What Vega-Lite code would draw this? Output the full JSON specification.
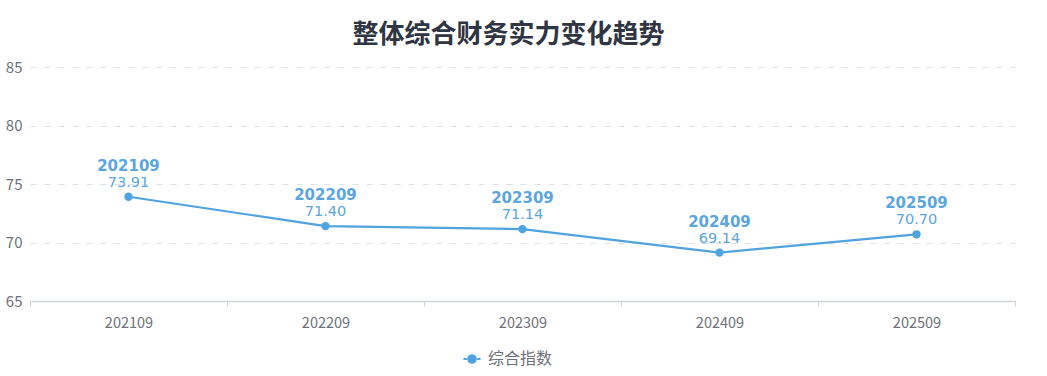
{
  "$schema": "https://vega.github.io/schema/vega-lite/v6.json",
  "autosize": {"type": "none"},
  "width": 985,
  "height": 234,
  "padding": {"left": 30, "top": 67, "right": 32, "bottom": 75},
  "background": "#ffffff",
  "config": {"view": {"stroke": null}},
  "title": {
    "text": "整体综合财务实力变化趋势",
    "font": "Noto Sans CJK SC",
    "fontSize": 26,
    "fontWeight": "bold",
    "color": "#2f3542",
    "anchor": "middle",
    "dx": -14,
    "offset": 12
  },
  "data": {
    "values": [
      {"period": "202109", "value": 73.91, "series": "综合指数"},
      {"period": "202209", "value": 71.40, "series": "综合指数"},
      {"period": "202309", "value": 71.14, "series": "综合指数"},
      {"period": "202409", "value": 69.14, "series": "综合指数"},
      {"period": "202509", "value": 70.70, "series": "综合指数"}
    ]
  },
  "encoding": {
    "x": {
      "field": "period",
      "type": "nominal",
      "scale": {"type": "band", "paddingInner": 0, "paddingOuter": 0},
      "axis": {
        "title": null,
        "labelAngle": 0,
        "labelFont": "Noto Sans CJK SC",
        "labelFontSize": 14.5,
        "labelColor": "#6e7079",
        "labelPadding": 10,
        "tickBand": "extent",
        "tickSize": 5,
        "tickColor": "#d0d3da",
        "domainColor": "#d0d3da",
        "domainWidth": 1.5,
        "grid": false
      }
    },
    "y": {
      "field": "value",
      "type": "quantitative",
      "scale": {"domain": [65, 85], "nice": false, "zero": false},
      "axis": {
        "title": null,
        "values": [65, 70, 75, 80, 85],
        "labelFont": "Noto Sans CJK SC",
        "labelFontSize": 15,
        "labelColor": "#6e7079",
        "labelPadding": 8,
        "ticks": false,
        "domain": false,
        "grid": true,
        "gridColor": "#dde1e8",
        "gridDash": [6, 8],
        "gridWidth": 1.2
      }
    }
  },
  "layer": [
    {
      "mark": {"type": "line", "strokeWidth": 2.2, "color": "#4fa3df"},
      "encoding": {
        "color": {
          "field": "series",
          "type": "nominal",
          "scale": {"range": ["#4fa3df"]},
          "legend": {
            "title": null,
            "orient": "none",
            "legendX": 432,
            "legendY": 282,
            "direction": "horizontal",
            "labelFont": "Noto Sans CJK SC",
            "labelFontSize": 16,
            "labelColor": "#6e7079",
            "symbolType": "M-1,0L-0.6,0M0.6,0L1,0M-0.45,0A0.45,0.45 0 1,1 0.45,0A0.45,0.45 0 1,1 -0.45,0Z",
            "symbolSize": 290,
            "symbolFillColor": "#4fa3df",
            "symbolStrokeColor": "#4fa3df",
            "symbolStrokeWidth": 2,
            "labelOffset": 6
          }
        }
      }
    },
    {
      "mark": {"type": "point", "filled": true, "size": 70, "opacity": 1, "color": "#4fa3df"}
    },
    {
      "mark": {"type": "text", "font": "DejaVu Sans", "fontSize": 14.5, "color": "#5ba6de", "dy": -10, "baseline": "alphabetic"},
      "encoding": {"text": {"field": "value", "type": "quantitative", "format": ".2f"}}
    },
    {
      "mark": {"type": "text", "font": "DejaVu Sans", "fontSize": 15, "fontWeight": "bold", "color": "#5ba6de", "dy": -26, "baseline": "alphabetic"},
      "encoding": {"text": {"field": "period", "type": "nominal"}}
    }
  ]
}
